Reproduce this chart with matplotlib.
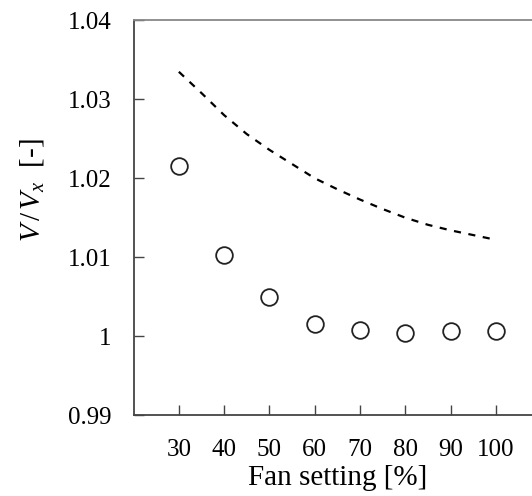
import numpy as np
import matplotlib.pyplot as plt

plt.rcParams['font.family'] = ['Liberation Serif', 'DejaVu Serif']
plt.rcParams['mathtext.fontset'] = 'custom'
plt.rcParams['mathtext.rm'] = 'Liberation Serif'
plt.rcParams['mathtext.it'] = 'Liberation Serif:italic'

# measured points (circles)
fan = [30, 40, 50, 60, 70, 80, 90, 100]
v_ratio = [1.0215, 1.0103, 1.0050, 1.0015, 1.0008, 1.0004, 1.0007, 1.0007]

# dashed reference curve, read every 5 %
curve_fan = [30, 35, 40, 45, 50, 55, 60, 65, 70, 75, 80, 85, 90, 95, 100]
curve_v = [1.0335, 1.0308, 1.0280, 1.0256, 1.0236, 1.0218, 1.0200, 1.0186,
           1.0173, 1.0161, 1.0150, 1.0141, 1.0134, 1.0128, 1.0122]

xticks = [30, 40, 50, 60, 70, 80, 90, 100]
yticks = [0.99, 1.0, 1.01, 1.02, 1.03, 1.04]
ytick_labels = ['0.99', '1', '1.01', '1.02', '1.03', '1.04']

fig = plt.figure(figsize=(5.32, 4.96), dpi=100)
ax = fig.add_axes([0.251, 0.1633, 0.7666, 0.7954])

ax.plot(curve_fan, curve_v, color='black', linestyle=(0, (3.2, 3.4)), linewidth=1.6)
ax.plot(fan, v_ratio, linestyle='none', marker='o', markersize=12,
        markerfacecolor='white', markeredgecolor='#222222', markeredgewidth=1.3)

ax.set_xlim(20, 110)
ax.set_ylim(0.99, 1.04)
ax.set_xticks(xticks)
ax.set_yticks(yticks)
ax.set_yticklabels(ytick_labels)
ax.tick_params(direction='in', length=7, width=1, color='#444444',
               labelsize=18)
ax.tick_params(axis='x', pad=17)
ax.tick_params(axis='y', pad=16)

ax.spines['left'].set_color('#444444')
ax.spines['bottom'].set_color('#444444')
ax.spines['top'].set_color('#888888')
ax.spines['right'].set_visible(False)
for s in ax.spines.values():
    s.set_linewidth(1.3)

ax.set_xlabel('Fan setting [%]', fontsize=21, labelpad=3)
ax.set_ylabel(r'$V\,/\,V_x$  [-]', fontsize=21)
ax.yaxis.set_label_coords(-0.215, 0.57)

fig.savefig('out.png', dpi=100)
